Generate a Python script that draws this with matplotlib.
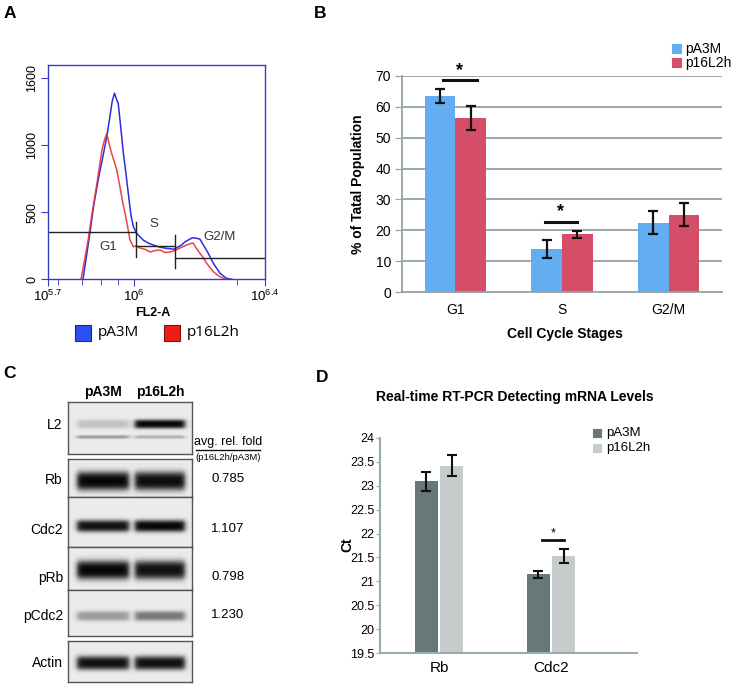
import numpy as np
import matplotlib
matplotlib.use('Agg')
import matplotlib.pyplot as plt
from matplotlib import font_manager
from matplotlib.patches import Rectangle
from matplotlib.lines import Line2D

# ---- panel A: flow cytometry histogram (x in log10 FL2-A units)
pA3M_x = [5.822, 5.834, 5.846, 5.860, 5.875, 5.890, 5.905, 5.915, 5.924, 5.932,
          5.938, 5.945, 5.954, 5.963, 5.972, 5.980, 5.990, 5.998, 6.003, 6.009,
          6.020, 6.032, 6.050, 6.067, 6.090, 6.114, 6.140, 6.166, 6.178, 6.189,
          6.204, 6.219, 6.230, 6.242, 6.259, 6.277, 6.300, 6.323, 6.342]
pA3M_counts = [0, 170, 343, 560, 741, 900, 1064, 1200, 1330, 1390,
               1350, 1313, 1130, 940, 790, 642, 470, 392, 370, 343,
               320, 293, 270, 256, 240, 231, 225, 256, 280, 293,
               310, 306, 300, 256, 194, 119, 45, 7, 0]
p16L2h_x = [5.815, 5.828, 5.840, 5.853, 5.867, 5.878, 5.888, 5.897, 5.905, 5.913,
            5.922, 5.931, 5.940, 5.951, 5.960, 5.969, 5.978, 5.986, 5.998, 6.010,
            6.021, 6.038, 6.056, 6.074, 6.091, 6.108, 6.126, 6.143, 6.160, 6.172,
            6.184, 6.195, 6.206, 6.218, 6.230, 6.242, 6.254, 6.266, 6.277, 6.289,
            6.300, 6.321]
p16L2h_counts = [0, 150, 293, 480, 666, 820, 964, 1040, 1089, 1010,
                 940, 880, 815, 691, 580, 492, 390, 293, 243, 250,
                 233, 225, 204, 215, 219, 200, 204, 215, 233, 245,
                 256, 265, 271, 230, 194, 160, 119, 85, 57, 35,
                 19, 0]
gate_names = ['G1', 'S', 'G2/M']
gate_edges = [5.7, 6.007, 6.143, 6.457]
gate_levels = [355, 248, 161]

# ---- panel B: cell cycle distribution
stages = ['G1', 'S', 'G2/M']
pct_pA3M = [63.5, 14.0, 22.5]
pct_pA3M_err = [2.2, 3.0, 3.8]
pct_p16L2h = [56.3, 18.8, 25.0]
pct_p16L2h_err = [4.0, 1.1, 3.7]

# ---- panel C: western blot
blot_rows = ['L2', 'Rb', 'Cdc2', 'pRb', 'pCdc2', 'Actin']
band_pA3M = [0.18, 1.0, 0.95, 1.0, 0.35, 0.95]
band_p16L2h = [1.0, 0.97, 1.0, 0.95, 0.5, 0.95]
fold_change = ['', '0.785', '1.107', '0.798', '1.230', '']

# ---- panel D: real-time RT-PCR
genes = ['Rb', 'Cdc2']
ct_pA3M = [23.09, 21.15]
ct_pA3M_err = [0.19, 0.07]
ct_p16L2h = [23.42, 21.53]
ct_p16L2h_err = [0.22, 0.15]


def has_font(name):
    try:
        font_manager.findfont(name, fallback_to_default=False)
        return True
    except Exception:
        return False

narrow = 'Liberation Sans Narrow' if has_font('Liberation Sans Narrow') else 'Liberation Sans'
plt.rcParams['font.family'] = ['Liberation Sans', 'DejaVu Sans']

W, H = 734, 692
fig = plt.figure(figsize=(W / 100, H / 100), dpi=100)


def px_axes(l, t, r, b):
    return fig.add_axes([l / W, 1 - b / H, (r - l) / W, (b - t) / H])


def ftext(x, y, s, **kw):
    kw.setdefault('ha', 'center')
    kw.setdefault('va', 'center')
    fig.text(x / W, 1 - y / H, s, **kw)


def fsquare(x, y, size, fc, ec):
    fig.patches.append(Rectangle((x / W, 1 - (y + size) / H), size / W, size / H,
                                 transform=fig.transFigure, fc=fc, ec=ec, lw=0.8))


# panel letters
for lab, x, y in [('A', 10, 14), ('B', 320, 14), ('C', 10, 373), ('D', 322, 377)]:
    ftext(x, y, lab, fontsize=12.5, fontweight='bold')

# ================= A
blue_a, red_a, frame_a = '#2d2de0', '#e8303a', '#3a3ac8'
axA = px_axes(48, 65, 265, 279.3)
axA.plot(pA3M_x, pA3M_counts, color=blue_a, lw=1.1)
axA.plot(p16L2h_x, p16L2h_counts, color=red_a, lw=1.1, alpha=0.9)
for i in range(3):
    axA.plot(gate_edges[i:i + 2], [gate_levels[i]] * 2, color='#222222', lw=1)
axA.plot([6.007, 6.007], [166, 430], color='#222222', lw=1)
axA.plot([6.143, 6.143], [84, 330], color='#222222', lw=1)
for name, gx, gy in zip(gate_names, [5.909, 6.070, 6.300], [241, 413, 316]):
    axA.text(gx, gy, name, ha='center', va='center', fontsize=9.5, color='#333333')
axA.set_xlim(5.7, 6.457)
axA.set_ylim(0, 1600)
axA.set_xticks([5.7, 6.0, 6.457])
axA.set_xticklabels([r'$\mathregular{10^{5.7}}$', r'$\mathregular{10^{6}}$',
                     r'$\mathregular{10^{6.4}}$'], fontsize=9.5)
axA.set_xticks([5.735, 5.819, 5.885, 5.944, 6.359], minor=True)
axA.set_yticks([0, 500, 1000, 1500])
axA.set_yticklabels(['0', '500', '1000', '1600'], rotation=90, va='center', fontsize=9)
axA.tick_params(axis='both', which='both', color=frame_a, direction='out')
axA.tick_params(axis='x', which='major', length=5, pad=2)
axA.tick_params(axis='x', which='minor', length=4)
axA.tick_params(axis='y', length=5, pad=2)
for sp in axA.spines.values():
    sp.set_color(frame_a)
    sp.set_linewidth(1.0)
ftext(153, 313, 'FL2-A', fontsize=9, fontweight='bold')
fsquare(75, 325, 16, '#2b4ff0', '#1a2a80')
ftext(98, 333, 'pA3M', fontsize=11, ha='left', family=['Open Sans', 'DejaVu Sans'])
fsquare(164, 325, 16, '#f01c1c', '#801010')
ftext(187, 333, 'p16L2h', fontsize=11, ha='left', family=['Open Sans', 'DejaVu Sans'])

# ================= B
blue_b, red_b, grid_b = '#63aef0', '#d44e68', '#93a3a3'
axB = px_axes(402, 75.7, 722, 292.3)
xb = np.arange(len(stages))
wb = 0.286
axB.bar(xb - wb / 2, pct_pA3M, wb, color=blue_b, zorder=2)
axB.bar(xb + wb / 2, pct_p16L2h, wb, color=red_b, zorder=2)
axB.errorbar(xb - wb / 2, pct_pA3M, yerr=pct_pA3M_err, fmt='none', ecolor='#111111',
             elinewidth=1.6, capsize=3.5, capthick=1.6, zorder=3)
axB.errorbar(xb + wb / 2, pct_p16L2h, yerr=pct_p16L2h_err, fmt='none', ecolor='#111111',
             elinewidth=1.6, capsize=3.5, capthick=1.6, zorder=3)
for yv in range(10, 80, 10):
    axB.axhline(yv, color=grid_b, lw=1.3, zorder=1)
for (x0, x1), yv in zip([(-0.12, 0.2), (0.84, 1.14)], [68.6, 22.8]):
    axB.plot([x0, x1], [yv, yv], color='#111111', lw=2.2, zorder=3)
    axB.text((x0 + x1) / 2, yv + 0.4, '*', ha='center', va='bottom', fontsize=13,
             fontweight='bold')
axB.set_xlim(-0.5, 2.5)
axB.set_ylim(0, 70)
axB.set_yticks(range(0, 80, 10))
axB.set_xticks(xb)
axB.set_xticklabels(stages)
axB.tick_params(axis='y', length=5, color=grid_b, labelsize=10, pad=3)
axB.tick_params(axis='x', length=0, labelsize=10, pad=8)
for s in ['top', 'right']:
    axB.spines[s].set_visible(False)
for s in ['left', 'bottom']:
    axB.spines[s].set_color(grid_b)
    axB.spines[s].set_linewidth(1.3)
ftext(358, 184, '% of Tatal Population', rotation=90, fontsize=10, fontweight='bold')
ftext(565, 334, 'Cell Cycle Stages', fontsize=10, fontweight='bold')
fsquare(672, 44, 9, blue_b, blue_b)
ftext(685, 49, 'pA3M', fontsize=10, ha='left')
fsquare(672, 58, 9, red_b, red_b)
ftext(685, 63, 'p16L2h', fontsize=10, ha='left')

# ================= C
box_l, box_r = 68, 192
row_boxes = [(402, 454), (459, 497), (497, 547), (547, 590), (590, 636), (641, 682)]
band_y = [424, 481, 526, 570, 616, 663]
band_half = [4.5, 9.5, 6, 9.5, 5, 7]
label_y = [425, 480, 530, 578, 616, 663]
lane_c = [35, 92]
lane_hw = [26, 25]

for i, row in enumerate(blot_rows):
    top, bot = row_boxes[i]
    w, h = box_r - box_l, bot - top
    xs = np.linspace(0, w, w * 3)
    ys = np.linspace(0, h, h * 3)
    X, Y = np.meshgrid(xs, ys)
    img = np.full(X.shape, 0.92)
    bands = [(lane_c[0], lane_hw[0], band_pA3M[i], band_y[i] - top, band_half[i]),
             (lane_c[1], lane_hw[1], band_p16L2h[i], band_y[i] - top, band_half[i])]
    if row == 'L2':
        bands.append((lane_c[0], lane_hw[0], 0.35, 437 - top, 1.8))
        bands.append((lane_c[1], lane_hw[1], 0.25, 437 - top, 1.8))
    for cx, hw, inten, yc, th in bands:
        prof_x = 0.5 * (np.tanh((X - (cx - hw)) / 3.0) - np.tanh((X - (cx + hw)) / 3.0))
        prof_y = np.exp(-np.abs((Y - yc) / th) ** 3)
        img = img * (1 - 0.97 * inten * prof_x * prof_y)
    axc = px_axes(box_l, top, box_r, bot)
    axc.imshow(img, cmap='gray', vmin=0, vmax=1, aspect='auto', interpolation='bilinear')
    axc.set_xticks([])
    axc.set_yticks([])
    for sp in axc.spines.values():
        sp.set_color('#555555')
        sp.set_linewidth(1.0)
    ftext(63, label_y[i], row, ha='right', fontsize=10, family=narrow)
    if fold_change[i]:
        ftext(228, label_y[i] - 1, fold_change[i], fontsize=9.5, family=narrow)

ftext(103, 392, 'pA3M', fontsize=10, fontweight='bold', family=narrow)
ftext(160, 392, 'p16L2h', fontsize=10, fontweight='bold', family=narrow)
ftext(228, 442, 'avg. rel. fold', fontsize=9, family=narrow)
fig.add_artist(Line2D([196 / W, 260 / W], [1 - 450 / H, 1 - 450 / H], color='#111111', lw=1))
ftext(228, 458, '(p16L2h/pA3M)', fontsize=6.8, family=narrow)

# ================= D
dark_d, light_d, axis_d = '#687878', '#c6cccc', '#9aacac'
axD = px_axes(380, 438, 637, 653)
xd = np.arange(len(genes))
wd, off = 0.205, 0.112
axD.bar(xd - off, ct_pA3M, wd, color=dark_d, zorder=2)
axD.bar(xd + off, ct_p16L2h, wd, color=light_d, zorder=2)
axD.errorbar(xd - off, ct_pA3M, yerr=ct_pA3M_err, fmt='none', ecolor='#111111',
             elinewidth=1.5, capsize=3.5, capthick=1.5, zorder=3)
axD.errorbar(xd + off, ct_p16L2h, yerr=ct_p16L2h_err, fmt='none', ecolor='#111111',
             elinewidth=1.5, capsize=3.5, capthick=1.5, zorder=3)
axD.plot([0.92, 1.116], [21.87, 21.87], color='#111111', lw=2, zorder=3)
axD.text(1.018, 21.88, '*', ha='center', va='bottom', fontsize=9)
axD.set_xlim(-0.527, 1.768)
axD.set_ylim(19.5, 24)
yt = np.arange(19.5, 24.01, 0.5)
axD.set_yticks(yt)
axD.set_yticklabels(['%g' % v for v in yt], family=narrow, fontsize=9)
axD.set_xticks(xd)
axD.set_xticklabels(genes, family=narrow, fontsize=11)
axD.tick_params(axis='y', length=3, color=axis_d, pad=1)
axD.tick_params(axis='x', length=0, pad=6)
for s in ['top', 'right']:
    axD.spines[s].set_visible(False)
for s in ['left', 'bottom']:
    axD.spines[s].set_color(axis_d)
    axD.spines[s].set_linewidth(1.5)
ftext(515, 397, 'Real-time RT-PCR Detecting mRNA Levels', fontsize=10, fontweight='bold')
ftext(347, 545, 'Ct', rotation=90, fontsize=10, fontweight='bold')
fsquare(593, 429, 8, dark_d, dark_d)
ftext(606, 433, 'pA3M', fontsize=9.5, ha='left', family=narrow)
fsquare(593, 444, 8, light_d, light_d)
ftext(606, 448, 'p16L2h', fontsize=9.5, ha='left', family=narrow)

fig.savefig('out.png', dpi=100)
